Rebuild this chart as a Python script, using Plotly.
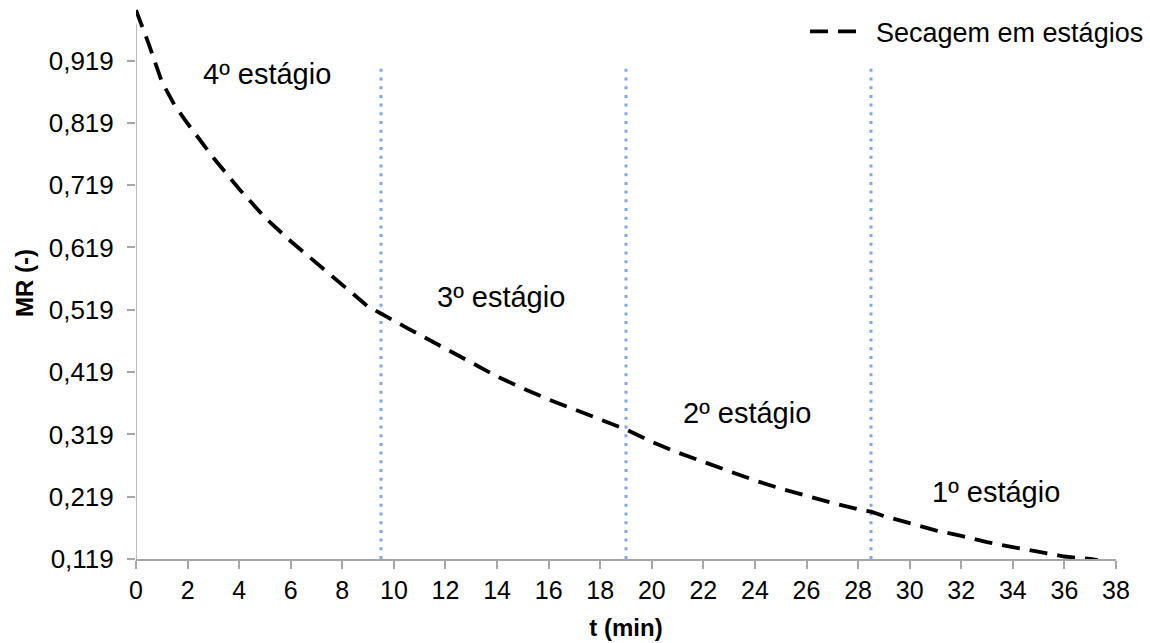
import plotly.graph_objects as go

# Drying curve: moisture ratio MR versus time t (min)
t_min = [0, 0.5, 1, 1.5, 2, 3, 4, 5, 6, 7, 8, 9, 9.5, 10, 10.5, 11, 12, 13, 14,
         15, 16, 17, 18, 19, 20, 21, 22, 23, 24, 25, 26, 27, 28, 28.5, 29, 30,
         31, 32, 33, 34, 35, 36, 37, 37.3]
mr = [1.000, 0.945, 0.885, 0.847, 0.818, 0.763, 0.713, 0.667, 0.629, 0.594,
      0.560, 0.524, 0.513, 0.501, 0.490, 0.479, 0.457, 0.434, 0.412, 0.393,
      0.375, 0.359, 0.343, 0.327, 0.307, 0.290, 0.275, 0.260, 0.245, 0.232,
      0.220, 0.209, 0.199, 0.195, 0.188, 0.176, 0.165, 0.156, 0.146, 0.138,
      0.130, 0.123, 0.119, 0.117]

# Stage boundaries (min) and the vertical extent of the marker lines
stage_bounds = [9.5, 19, 28.5]
bound_mr = [0.119, 0.915]

# Stage labels and their positions (centre t, centre MR)
stage_labels = ["4º estágio", "3º estágio", "2º estágio", "1º estágio"]
stage_label_t = [5.09, 14.16, 23.70, 33.35]
stage_label_mr = [0.897, 0.540, 0.354, 0.226]

# Axis ticks
x_ticks = list(range(0, 39, 2))
y_ticks = [0.119, 0.219, 0.319, 0.419, 0.519, 0.619, 0.719, 0.819, 0.919]
y_tick_text = [f"{v:.3f}".replace(".", ",") for v in y_ticks]
y_range = [0.119, 1.005]
y_axis_top = 0.978

FONT = "Liberation Sans, Arial, sans-serif"
AXIS_GRAY = "#A6A6A6"
NBSP = "\u00a0"

fig = go.Figure()

for tb in stage_bounds:
    fig.add_trace(go.Scatter(
        x=[tb, tb], y=bound_mr, mode="lines",
        line=dict(color="#7FA8E2", width=3, dash="3px,5.7px"),
        showlegend=False, hoverinfo="skip"))

fig.add_trace(go.Scatter(
    x=t_min, y=mr, mode="lines", name=NBSP * 2 + "Secagem em estágios",
    line=dict(color="black", width=3.8, dash="18px,10px")))

for txt, tx, ty in zip(stage_labels, stage_label_t, stage_label_mr):
    fig.add_annotation(x=tx, y=ty, text=txt, showarrow=False,
                       xanchor="center", yanchor="middle",
                       font=dict(family=FONT, size=29, color="black"))

# y axis line stops below the top of the plotting area
fig.add_shape(type="line", xref="x", yref="y", x0=0, x1=0,
              y0=y_range[0], y1=y_axis_top,
              line=dict(color=AXIS_GRAY, width=1.5))

fig.update_layout(
    width=1150, height=643,
    paper_bgcolor="white", plot_bgcolor="white",
    margin=dict(l=136, r=34, t=7, b=84, autoexpand=False),
    font=dict(family=FONT, size=25, color="black"),
    legend=dict(x=1.0337, xanchor="right", y=0.955, yanchor="middle",
                bgcolor="rgba(0,0,0,0)", itemwidth=46,
                font=dict(family=FONT, size=27, color="black")),
    xaxis=dict(range=[0, 38], tickmode="array", tickvals=x_ticks,
               ticks="outside", ticklen=8, tickwidth=1.5, tickcolor=AXIS_GRAY,
               showline=True, linecolor=AXIS_GRAY, linewidth=1.5,
               showgrid=False, zeroline=False,
               tickfont=dict(family=FONT, size=25, color="black"),
               title=dict(text="<b>t (min)</b>", standoff=16,
                          font=dict(family=FONT, size=24, color="black"))),
    yaxis=dict(range=y_range, tickmode="array", tickvals=y_ticks,
               ticktext=y_tick_text,
               ticks="outside", ticklen=8, tickwidth=1.5, tickcolor=AXIS_GRAY,
               ticklabelstandoff=8,
               showline=False, showgrid=False, zeroline=False,
               tickfont=dict(family=FONT, size=26, color="black"),
               title=dict(text="<b>MR (-)</b>", standoff=8,
                          font=dict(family=FONT, size=24, color="black"))),
)

fig.write_html("out.html")
